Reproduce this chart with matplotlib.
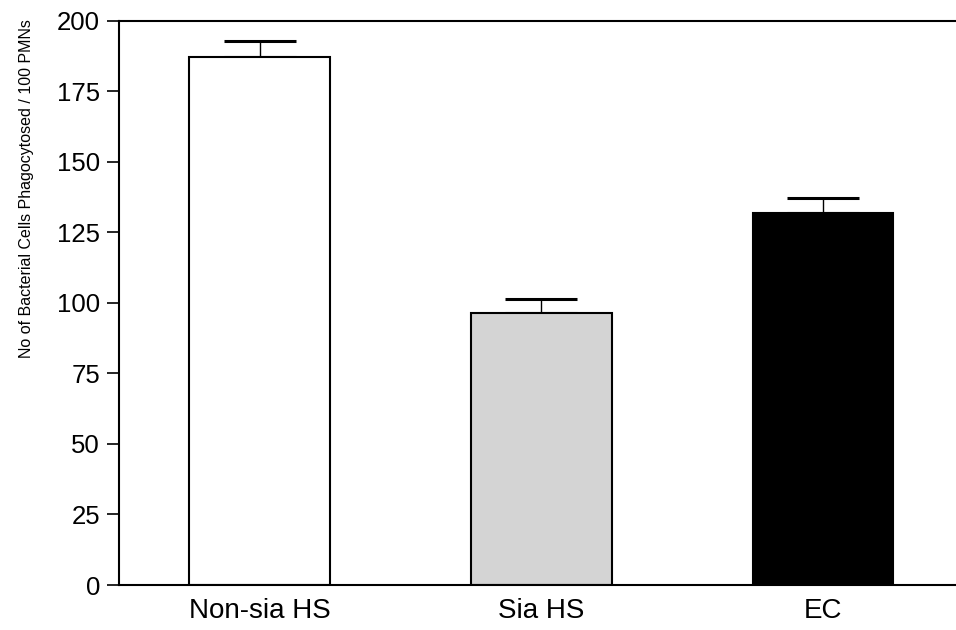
import matplotlib
matplotlib.use("Agg")
import matplotlib.pyplot as plt
import numpy as np

plt.rcParams['font.family'] = ['Liberation Sans', 'DejaVu Sans']

groups = ["Non-sia HS", "Sia HS", "EC"]
means = [187.0, 96.3, 131.8]
errors = [5.8, 4.9, 5.5]
colors = ["white", "#d4d4d4", "black"]
yticks = [0, 25, 50, 75, 100, 125, 150, 175, 200]

fig = plt.figure(figsize=(9.56, 6.3), dpi=100)
ax = fig.add_axes([0.1242, 0.0714, 0.884, 0.8958])

x = np.arange(len(groups))
ax.bar(x, means, width=0.5, color=colors, edgecolor="black", linewidth=1.5, zorder=2)
# one-sided (upper) error bars
ax.errorbar(x, means, yerr=[np.zeros(len(errors)), errors], fmt="none",
            ecolor="black", elinewidth=1.0, capsize=26, capthick=2.2, zorder=1)

ax.set_xlim(-0.5, 2.5)
ax.set_ylim(0, 200)
ax.set_yticks(yticks)
ax.set_xticks(x)
ax.set_xticklabels(groups)
ax.tick_params(axis="y", length=8.5, width=1.2, pad=5, labelsize=18.5)
ax.tick_params(axis="x", length=0, pad=9, labelsize=20)
ax.set_ylabel("No of Bacterial Cells Phagocytosed / 100 PMNs", fontsize=11.5)
ax.yaxis.set_label_coords(-0.1, 0.703)

for side in ("left", "bottom", "top"):
    ax.spines[side].set_linewidth(1.5)
ax.spines["right"].set_visible(False)

plt.savefig("out.png", dpi=100)
